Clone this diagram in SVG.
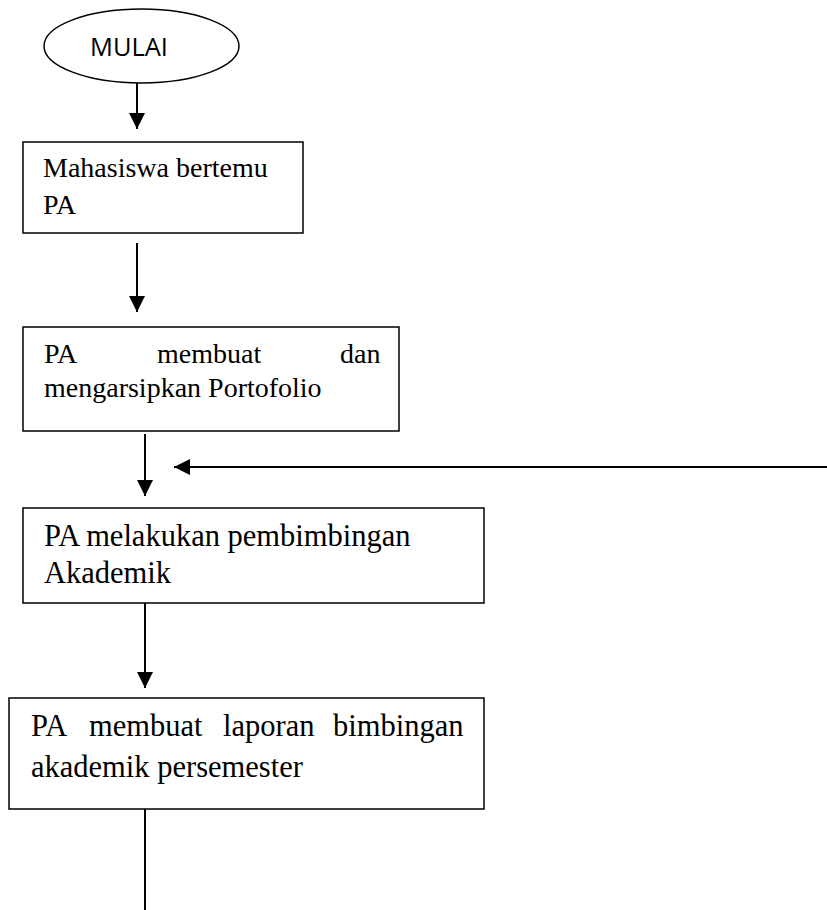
<svg xmlns="http://www.w3.org/2000/svg" width="827" height="910" viewBox="0 0 827 910">
<style>
.box{fill:#fff;stroke:#000;stroke-width:1.5}
.t{font-family:"Liberation Serif","Times New Roman",serif;fill:#000}
.s{font-family:"Open Sans","Liberation Sans",Arial,sans-serif;fill:#000}
.c{stroke:#000;stroke-width:2;fill:none}
</style>
<defs>
<marker id="ah" markerUnits="userSpaceOnUse" markerWidth="16" markerHeight="16" refX="16" refY="8" orient="auto" viewBox="0 0 16 16">
<path d="M0,0 L16,8 L0,16 z" fill="#000"/>
</marker>
</defs>
<rect width="827" height="910" fill="#fff"/>
<g id="connectors">
<line class="c" x1="137" y1="83" x2="137" y2="129" marker-end="url(#ah)"/>
<line class="c" x1="137" y1="243" x2="137" y2="312" marker-end="url(#ah)"/>
<line class="c" x1="145" y1="434" x2="145" y2="496" marker-end="url(#ah)"/>
<line class="c" x1="827" y1="467" x2="174" y2="467" marker-end="url(#ah)"/>
<line class="c" x1="145" y1="603" x2="145" y2="688" marker-end="url(#ah)"/>
<line class="c" x1="145" y1="809" x2="145" y2="910"/>
</g>
<g id="mulai">
<ellipse class="box" cx="141.5" cy="46" rx="97.5" ry="37"/>
<text class="s" x="129" y="56" font-size="25" text-anchor="middle" textLength="78" lengthAdjust="spacingAndGlyphs">MULAI</text>
</g>
<g id="n1">
<rect class="box" x="23" y="142" width="280" height="91"/>
<text class="t" font-size="28" x="43" y="177">Mahasiswa bertemu</text>
<text class="t" font-size="28" x="43" y="214">PA</text>
</g>
<g id="n2">
<rect class="box" x="23" y="327" width="376" height="104"/>
<text class="t" font-size="28" x="44" y="363">PA</text>
<text class="t" font-size="28" x="157" y="363">membuat</text>
<text class="t" font-size="28" x="340" y="363">dan</text>
<text class="t" font-size="28" x="44" y="397">mengarsipkan Portofolio</text>
</g>
<g id="n3">
<rect class="box" x="23" y="508" width="461" height="95"/>
<text class="t" font-size="30.5" x="44" y="546">PA melakukan pembimbingan</text>
<text class="t" font-size="30.5" x="44" y="583">Akademik</text>
</g>
<g id="n4">
<rect class="box" x="9" y="698" width="475" height="111"/>
<text class="t" font-size="30.5" x="31" y="736">PA</text>
<text class="t" font-size="30.5" x="89" y="736">membuat</text>
<text class="t" font-size="30.5" x="223" y="736">laporan</text>
<text class="t" font-size="30.5" x="333" y="736">bimbingan</text>
<text class="t" font-size="30.5" x="31" y="777">akademik persemester</text>
</g>
</svg>
